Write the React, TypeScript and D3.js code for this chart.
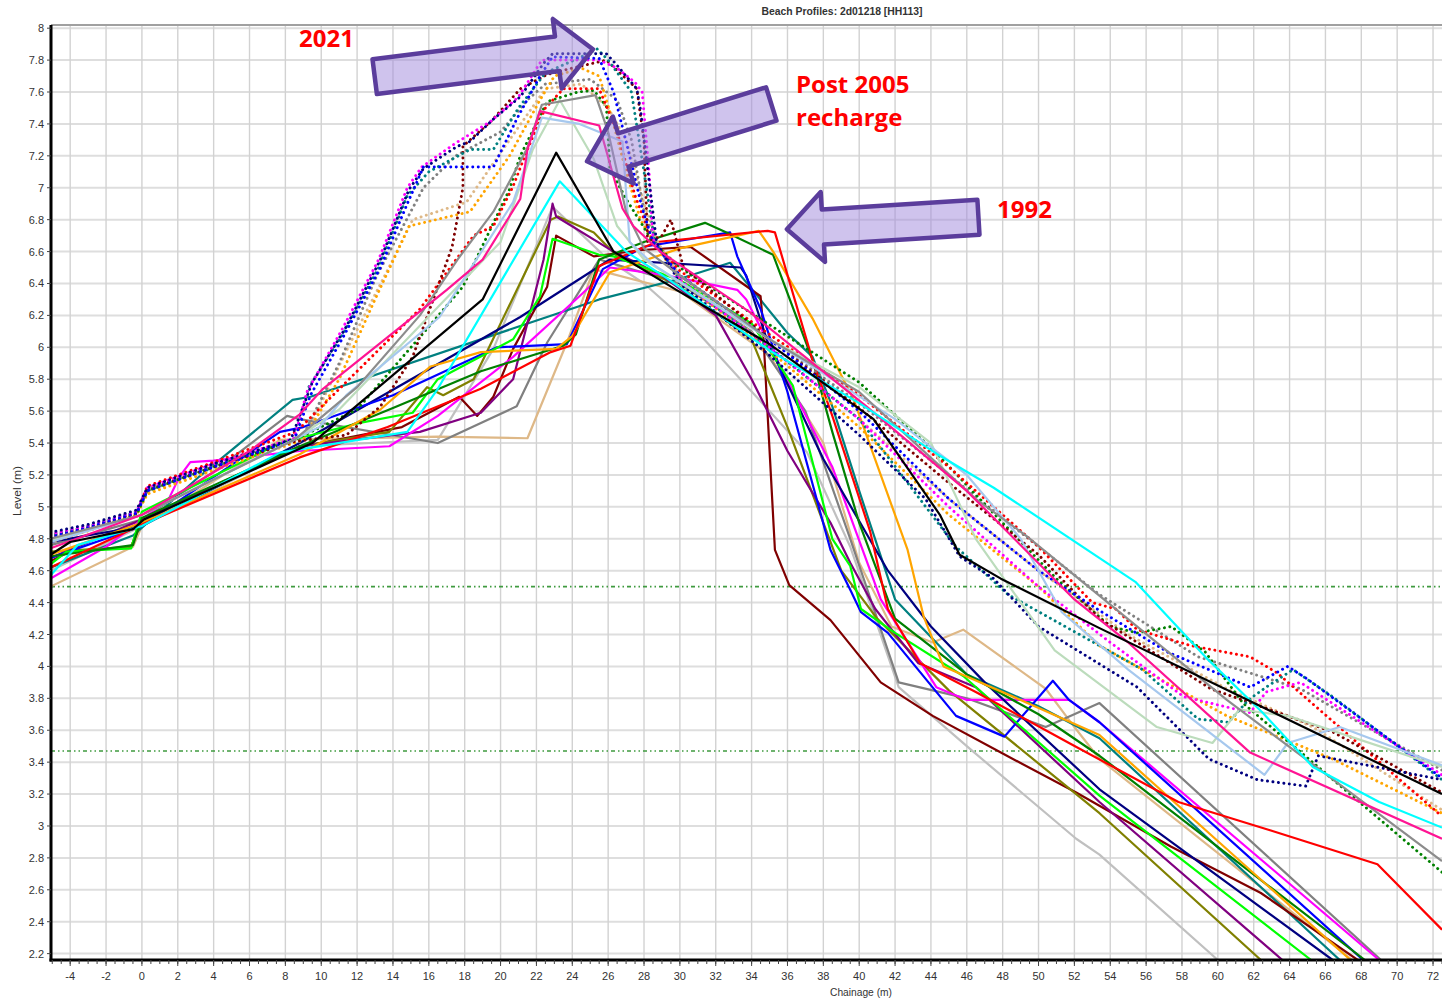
import React from 'react';
import * as d3 from 'd3';

type Pt = [number, number];

// axis ticks
const chainageTicks = d3.range(-4, 73, 2);
const chainageMinor = d3.range(-5, 72.6, 0.5);
const levelTicks = d3.range(0, 30).map(i => +(2.2 + i * 0.2).toFixed(1));
const tideLevels = [4.5, 3.47];

// ---- older surveys (solid lines) : [chainage m, level m] ----
const pRed: Pt[] = [[-5.1,4.62],[0,4.89],[8.8,5.31],[13.7,5.5],[18.9,5.74],[22.8,5.97],[23.9,6.01],[25.5,6.51],[28.7,6.66],[34.9,6.73],[35.3,6.72],[37.4,5.92],[38.5,5.57],[40.6,4.85],[41.6,4.36],[43.4,4.02],[46.5,3.84],[51.7,3.52],[57.8,3.15],[63,2.97],[68.9,2.76],[72.5,2.35]];
const pOrange: Pt[] = [[-5.1,4.7],[0,4.9],[8.8,5.33],[13.3,5.61],[16.1,5.88],[18.9,5.97],[23.1,5.99],[24,6.07],[26.1,6.47],[30,6.62],[34.4,6.73],[35.2,6.6],[37.4,6.18],[39.7,5.67],[42.7,4.73],[43.6,4.31],[44.7,4.0],[49,3.79],[53.4,3.57],[67.4,2.16]];
const pGreen: Pt[] = [[-5.1,4.69],[-0.5,4.76],[0,4.93],[8.8,5.38],[14,5.62],[18.9,5.85],[23.5,6.01],[24.2,6.08],[25.5,6.55],[28,6.66],[31.4,6.78],[32.6,6.72],[35.2,6.58],[37.4,5.92],[38.5,5.47],[40,4.9],[42,4.3],[46,3.95],[50,3.7],[53.4,3.44],[68.2,2.16]];
const pLime: Pt[] = [[-5.1,4.64],[-4.2,4.72],[-0.6,4.74],[0,4.97],[7.7,5.4],[12.3,5.53],[15.1,5.59],[16.5,5.8],[20.7,6.05],[22.2,6.32],[22.9,6.68],[25.5,6.58],[26.3,6.57],[30,6.42],[34,6.15],[36.3,5.76],[38.5,4.8],[39.5,4.63],[40.1,4.36],[42,4.21],[45.8,3.94],[53.4,3.19],[65.2,2.16]];
const pBlue: Pt[] = [[-5.1,4.68],[0,4.88],[7.7,5.47],[9,5.5],[14,5.7],[19.8,6.0],[23.7,6.02],[25.7,6.49],[28,6.63],[32.8,6.72],[33.2,6.57],[34.5,6.24],[36,5.72],[38.4,4.73],[39.5,4.48],[40.1,4.34],[41.6,4.21],[45.4,3.69],[48.1,3.56],[50.8,3.91],[51.7,3.79],[53.4,3.65],[68.1,2.16]];
const pNavy: Pt[] = [[-5.1,4.78],[0,4.88],[8.8,5.4],[21.1,6.19],[26.1,6.55],[33.4,6.5],[33.7,6.45],[34.9,6.03],[38,5.3],[41.6,4.6],[44,4.25],[47,3.9],[53.4,3.23],[66.4,2.16]];
const pMagenta: Pt[] = [[-5.1,4.55],[-2,4.75],[0,4.92],[1.5,5.05],[2.1,5.19],[2.7,5.28],[4,5.29],[8.8,5.35],[13.8,5.38],[16.5,5.57],[20.7,5.94],[24.4,6.32],[26.1,6.5],[29.3,6.45],[33.2,6.36],[33.7,6.3],[35.2,5.97],[38.5,5.25],[41.2,4.42],[44.3,3.87],[46,3.79],[51.7,3.79],[53.4,3.65],[69,2.16]];
const pPurple: Pt[] = [[-5.1,4.68],[0,4.92],[8.8,5.38],[15.5,5.47],[18.9,5.59],[20.7,5.8],[22.4,6.55],[22.9,6.9],[23.1,6.82],[26.3,6.6],[29,6.45],[32,6.2],[34,5.8],[36,5.35],[38.4,4.9],[39.5,4.65],[40.9,4.36],[43.3,4.02],[46.5,3.87],[53.4,3.15],[63.6,2.16]];
const pOlive: Pt[] = [[-5.1,4.72],[-0.6,4.75],[0,4.92],[8.8,5.38],[13.8,5.47],[15.9,5.75],[16.8,5.7],[18.5,5.8],[22.8,6.8],[23.2,6.82],[25.2,6.72],[26.5,6.57],[30,6.38],[34,6.05],[36,5.5],[39,4.6],[41,4.3],[45,3.85],[53.4,3.08],[62.4,2.16]];
const pMaroon: Pt[] = [[-5.1,4.66],[-4,4.72],[-0.6,4.75],[0.05,4.93],[9,5.38],[14.5,5.5],[17.7,5.69],[18.7,5.57],[19.6,5.69],[20.7,5.99],[22.6,6.38],[23.1,6.7],[25.2,6.57],[27.9,6.61],[30.6,6.63],[34.5,6.32],[34.6,6.19],[35.3,4.73],[36.1,4.51],[38.4,4.29],[41.2,3.9],[44.1,3.69],[47.9,3.46],[52.1,3.21],[57.4,2.87],[62.4,2.58],[67.8,2.16]];
const pTeal: Pt[] = [[-5.1,4.62],[-0.5,4.82],[3.2,5.19],[8.4,5.67],[9.4,5.69],[25.5,6.3],[30,6.43],[32.8,6.53],[33.9,6.38],[36,6.09],[37.4,5.94],[38.5,5.63],[40,5.1],[42,4.42],[46,3.95],[50,3.75],[53.4,3.55],[66.8,2.16]];
const pGray: Pt[] = [[-5.1,4.76],[0,4.92],[4,5.22],[8.1,5.57],[8.8,5.55],[16.5,5.4],[20.9,5.63],[22.6,6.03],[25.5,6.55],[30,6.4],[34,6.1],[37,5.6],[39.5,4.8],[42.2,3.9],[46,3.8],[50.4,3.62],[53.4,3.77],[69.1,2.16]];
const pSilver: Pt[] = [[-5.1,4.6],[0,4.88],[8.8,5.38],[16.5,5.42],[19.6,5.99],[22.9,6.88],[26,6.55],[28,6.4],[30.7,6.13],[37.1,5.34],[39.5,4.75],[42.2,3.87],[46,3.5],[52.1,2.92],[53.4,2.82],[60,2.16]];
const pTan: Pt[] = [[-5.1,4.5],[-0.5,4.75],[0,4.88],[7.7,5.42],[16.5,5.44],[21.5,5.43],[23.7,6.03],[25.2,6.49],[30,6.35],[35,5.95],[38,5.4],[40,4.65],[41.8,4.25],[44.1,4.15],[45.8,4.23],[50.4,3.86],[52,3.62],[53.4,3.42],[67.5,2.16]];
// upper group of solid lines
const pPaleGreen: Pt[] = [[-5.1,4.79],[0,4.95],[8.5,5.42],[11,5.61],[20,6.66],[21.8,7.24],[23.3,7.55],[25.2,7.18],[26.5,6.76],[28,6.55],[35,6.05],[40,5.75],[44,5.4],[46.5,4.8],[50.9,4.1],[56.6,3.62],[59.7,3.52],[61.2,3.73],[63.9,3.69],[72.5,3.37]];
const pLightBlue: Pt[] = [[-5.1,4.78],[0,4.95],[9.9,5.5],[11.4,5.7],[16.6,6.19],[20.7,6.91],[22.3,7.44],[24.4,7.4],[26.8,7.29],[27.2,6.66],[28.5,6.52],[35,6.05],[42,5.55],[46,5.2],[49,4.8],[51.3,4.34],[55,3.98],[62.6,3.32],[63.9,3.52],[66.8,3.62],[72.5,3.38]];
const pGray2: Pt[] = [[-5.1,4.8],[0,4.95],[8.5,5.42],[12,5.75],[15.5,6.2],[17.6,6.55],[19.6,6.85],[21.5,7.25],[22.3,7.52],[25.3,7.58],[26,7.35],[27,6.85],[28,6.62],[30,6.45],[35,6.05],[40,5.72],[46.5,5.05],[49.3,4.82],[60.5,3.79],[72.5,2.78]];
const pPink: Pt[] = [[-5.1,4.74],[0,4.95],[6,5.35],[8.8,5.58],[10.1,5.74],[17,6.36],[19,6.55],[21.1,6.93],[21.5,7.24],[22.2,7.48],[25.5,7.39],[26.8,6.87],[27.4,6.76],[28.9,6.6],[33.9,6.22],[40.4,5.63],[46,5.1],[52,4.42],[55,4.15],[61.8,3.46],[72.5,2.92]];
const pCyan: Pt[] = [[-5.1,4.57],[-3.6,4.76],[0,4.88],[7.7,5.34],[14.8,5.47],[16.5,5.74],[23.3,7.04],[27,6.6],[29.3,6.43],[35,5.98],[40,5.65],[44.5,5.32],[47.5,5.12],[55.4,4.53],[59.3,4.06],[62.5,3.71],[65.3,3.37],[69,3.15],[72.5,2.99]];
const pBlack: Pt[] = [[-5.1,4.7],[-4,4.78],[-0.5,4.86],[0.1,4.92],[9.5,5.4],[19,6.3],[23.1,7.22],[26.3,6.6],[29.8,6.36],[35,6.02],[40.8,5.55],[44.5,4.95],[45.6,4.7],[47.9,4.55],[53.4,4.24],[72.5,3.2]];

// ---- post-2005 recharge / 2021 surveys (dotted lines) ----
const dNavy: Pt[] = [[-5.1,4.84],[-3,4.89],[-0.3,4.98],[0.3,5.12],[4,5.27],[8.3,5.42],[9.5,5.78],[11.4,6.13],[13.3,6.55],[14.9,6.99],[15.7,7.12],[16.5,7.18],[17.6,7.26],[18.3,7.29],[19.6,7.43],[21.1,7.57],[22.4,7.78],[22.9,7.84],[25.9,7.84],[26.4,7.78],[27.6,7.62],[27.8,7.49],[28.2,7.12],[28.7,6.66],[30,6.4],[35,5.95],[40,5.45],[43.7,5.05],[45.6,4.69],[47.5,4.55],[50,4.25],[55.5,3.87],[59.5,3.42],[62.2,3.29],[64.9,3.25],[65.6,3.44],[72.5,3.29]];
const dBlue: Pt[] = [[-5.1,4.81],[-3,4.87],[-0.3,4.96],[0.3,5.1],[4,5.25],[8.5,5.42],[9.4,5.7],[11.3,6.08],[13.3,6.5],[14.8,6.9],[15.7,7.13],[19.6,7.13],[20.9,7.43],[22.2,7.7],[22.9,7.82],[25.5,7.81],[26.3,7.6],[27,7.29],[27.9,6.87],[28.5,6.66],[30,6.45],[35,6.05],[40,5.6],[45,5.05],[50,4.6],[53.4,4.35],[57.2,4.09],[61.8,3.87],[63.9,4.0],[65,3.92],[72.5,3.3]];
const dMagenta: Pt[] = [[-5.1,4.83],[-3,4.88],[-0.3,4.97],[0.3,5.12],[4,5.27],[8.5,5.43],[9.2,5.72],[11.2,6.12],[13.2,6.55],[14.8,7.0],[15.6,7.13],[17.5,7.28],[19.5,7.42],[21,7.57],[22.3,7.8],[25.5,7.8],[26.5,7.75],[27.5,7.66],[27.9,7.6],[28.3,7.07],[28.5,6.68],[30,6.42],[35,6.0],[40,5.55],[45,5.0],[50,4.5],[54,4.15],[58.1,3.81],[61.8,3.71],[62.7,3.84],[64.6,3.9],[72.5,3.32]];
const dTeal: Pt[] = [[-5.1,4.82],[-3,4.88],[-0.3,4.97],[0.3,5.11],[4,5.26],[8.5,5.42],[9.3,5.75],[11.3,6.1],[13.2,6.5],[14.8,6.95],[16,7.1],[18.3,7.24],[19.6,7.24],[21,7.5],[22.5,7.72],[24.5,7.82],[25.4,7.87],[26,7.8],[27.3,7.6],[28,7.1],[28.6,6.66],[30,6.42],[35,6.0],[40,5.55],[45.4,4.75],[48.3,4.45],[53.4,4.13],[55.8,3.98],[58.9,3.67],[60.6,3.65],[61.7,3.79],[62.7,3.87],[64.2,3.98],[66.4,3.81],[72.5,3.29]];
const dMaroon: Pt[] = [[-5.1,4.82],[-3,4.87],[-0.3,4.96],[0.3,5.11],[4,5.25],[8.5,5.41],[11.4,5.45],[13.3,5.63],[15.1,5.94],[17.3,6.63],[17.9,7.0],[17.9,7.26],[19.5,7.42],[21.1,7.62],[22.6,7.71],[24,7.75],[25.9,7.8],[27.6,7.62],[28,7.29],[28.2,6.66],[29,6.7],[29.5,6.8],[30.2,6.5],[35,6.05],[40,5.62],[45,5.15],[50,4.7],[53.4,4.3],[59.6,3.86],[66.4,3.59],[72.5,3.21]];
const dGray: Pt[] = [[-5.1,4.83],[-3,4.88],[-0.3,4.97],[0.3,5.1],[4,5.26],[9,5.45],[11,5.9],[13.1,6.45],[15.7,7.0],[17.5,7.2],[20,7.35],[21.5,7.55],[22.5,7.65],[25,7.68],[26.5,7.55],[27.3,7.3],[28,6.85],[28.7,6.65],[30,6.45],[35,6.05],[40,5.65],[45,5.2],[50,4.75],[53.4,4.45],[58.9,4.06],[64.6,3.86],[72.5,3.35]];
const dTan: Pt[] = [[-5.1,4.8],[-3,4.86],[-0.3,4.95],[0.3,5.09],[4,5.24],[9,5.42],[11.5,6.0],[14,6.55],[15.1,6.8],[18.1,6.91],[20.5,7.3],[22.5,7.62],[24.5,7.65],[26,7.5],[27,7.3],[28,6.9],[28.8,6.65],[30,6.45],[35,6.0],[40,5.55],[45,5.05],[50,4.6],[55,4.2],[60.5,3.86],[65.3,3.62],[72.5,3.1]];
const dOrange: Pt[] = [[-5.1,4.78],[-3,4.85],[-0.3,4.95],[0.3,5.08],[4,5.23],[9,5.42],[11,5.8],[13,6.3],[14.9,6.76],[18.3,6.85],[20.5,7.2],[22.2,7.55],[23,7.7],[24.5,7.75],[25.5,7.7],[26.3,7.4],[27,7.1],[27.8,6.8],[28.6,6.65],[30,6.42],[35,5.98],[40,5.5],[45,4.95],[50,4.5],[53.4,4.13],[60.5,3.69],[66.4,3.42],[72.5,3.08]];
const dRed: Pt[] = [[-5.1,4.81],[-3,4.87],[-0.3,4.96],[0.3,5.13],[4,5.28],[8.6,5.47],[12,5.85],[15.5,6.24],[18.5,6.7],[19.6,6.76],[20.7,7.01],[21.5,7.24],[22.5,7.5],[23.5,7.62],[25.5,7.62],[26.5,7.35],[27.5,6.95],[28.5,6.66],[30,6.48],[35,6.08],[40,5.7],[45,5.25],[50,4.75],[53,4.4],[54.3,4.36],[55.5,4.23],[58.5,4.13],[61.8,4.06],[63.3,3.96],[72.5,3.06]];
const dGreen: Pt[] = [[-5.1,4.8],[-3,4.86],[-0.3,4.95],[0.3,5.1],[4,5.25],[8.5,5.42],[12,5.61],[15.7,6.09],[17.9,6.38],[20.5,6.99],[21.1,7.2],[22.6,7.54],[24.3,7.6],[25.2,7.61],[25.9,7.51],[26.1,7.12],[27,6.93],[28.5,6.66],[30,6.5],[33.9,6.22],[40,5.78],[44.1,5.36],[48,4.9],[51,4.55],[54,4.25],[55.5,4.21],[57.4,4.25],[59.3,4.09],[61.4,3.77],[72.5,2.71]];

const lowerSolid = [
  { c: '#c0c0c0', d: pSilver }, { c: '#deb887', d: pTan }, { c: '#808080', d: pGray },
  { c: '#008080', d: pTeal }, { c: '#800000', d: pMaroon }, { c: '#808000', d: pOlive },
  { c: '#800080', d: pPurple }, { c: '#ff00ff', d: pMagenta }, { c: '#000080', d: pNavy },
  { c: '#0000ff', d: pBlue }, { c: '#00ff00', d: pLime }, { c: '#008000', d: pGreen },
  { c: '#ffa500', d: pOrange }, { c: '#ff0000', d: pRed },
];
const upperSolid = [
  { c: '#bcdcbc', d: pPaleGreen }, { c: '#a6c8ee', d: pLightBlue }, { c: '#8c8c8c', d: pGray2 },
  { c: '#ff1493', d: pPink }, { c: '#00ffff', d: pCyan }, { c: '#000000', d: pBlack },
];
const dotted = [
  { c: '#deb887', d: dTan }, { c: '#808080', d: dGray }, { c: '#ffa500', d: dOrange },
  { c: '#008000', d: dGreen }, { c: '#ff0000', d: dRed }, { c: '#800000', d: dMaroon },
  { c: '#008080', d: dTeal }, { c: '#ff00ff', d: dMagenta }, { c: '#0000ff', d: dBlue },
  { c: '#000080', d: dNavy },
];

// callout arrows, tip and tail in chart units
const callouts: { tip: Pt; tail: Pt; head: number }[] = [
  { tip: [25.15, 7.868], tail: [12.98, 7.696], head: 36 },
  { tip: [24.82, 7.166], tail: [35.1, 7.525], head: 38 },
  { tip: [35.97, 6.74], tail: [46.65, 6.815], head: 36 },
];

function arrowPoints(t: Pt, e: Pt, headLen: number, headHalf = 35, shaftHalf = 17.5) {
  const dx = e[0] - t[0], dy = e[1] - t[1];
  const L = Math.hypot(dx, dy);
  const ux = dx / L, uy = dy / L, nx = -uy, ny = ux;
  const bx = t[0] + ux * headLen, by = t[1] + uy * headLen;
  return [
    [t[0], t[1]],
    [bx + nx * headHalf, by + ny * headHalf],
    [bx + nx * shaftHalf, by + ny * shaftHalf],
    [e[0] + nx * shaftHalf, e[1] + ny * shaftHalf],
    [e[0] - nx * shaftHalf, e[1] - ny * shaftHalf],
    [bx - nx * shaftHalf, by - ny * shaftHalf],
    [bx - nx * headHalf, by - ny * headHalf],
  ].map(p => p.map(v => v.toFixed(1)).join(',')).join(' ');
}

export default function App() {
  const W = 1442, H = 1000;
  const left = 51, right = 1442, top = 25, bottom = 960;
  const x = d3.scaleLinear().domain([-5.07, 72.5]).range([left, right]);
  const y = d3.scaleLinear().domain([2.16, 8.02]).range([bottom, top]);
  const line = d3.line<Pt>().x(d => x(d[0])).y(d => y(d[1]));
  const font = "'Liberation Sans', Arial, sans-serif";

  return (
    <div style={{ position: 'fixed', left: 0, top: 0 }}>
      <svg width={W} height={H} style={{ display: 'block', background: '#fff' }} fontFamily={font}>
        <defs>
          <clipPath id="plotArea">
            <rect x={left} y={top} width={right - left} height={bottom - top} />
          </clipPath>
        </defs>

        {/* grid */}
        <g>
          {levelTicks.map(v => (
            <line key={'h' + v} x1={left} x2={right} y1={y(v)} y2={y(v)} stroke="#dedede" strokeWidth={2} />
          ))}
          {chainageTicks.map(v => (
            <line key={'v' + v} x1={x(v)} x2={x(v)} y1={top} y2={bottom} stroke="#d2d2d2" strokeWidth={1.4} />
          ))}
        </g>

        {/* tide levels */}
        {tideLevels.map(v => (
          <line key={'t' + v} x1={left} x2={right} y1={y(v)} y2={y(v)} stroke="#3f9a3f" strokeWidth={1.6}
            strokeDasharray="4,3,1.5,3,1.5,3" />
        ))}

        <g clipPath="url(#plotArea)" fill="none" strokeLinejoin="round">
          {lowerSolid.map((s, i) => (
            <path key={'l' + i} d={line(s.d) || ''} stroke={s.c} strokeWidth={2.2} />
          ))}
          {dotted.map((s, i) => (
            <path key={'d' + i} d={line(s.d) || ''} stroke={s.c} strokeWidth={2.9}
              strokeDasharray="0.1 5.4" strokeLinecap="round" />
          ))}
          {upperSolid.map((s, i) => (
            <path key={'u' + i} d={line(s.d) || ''} stroke={s.c} strokeWidth={2.2} />
          ))}
        </g>

        {/* frame and axes */}
        <line x1={left} x2={right} y1={top} y2={top} stroke="#a0a0a0" strokeWidth={2} />
        <line x1={left} x2={left} y1={top} y2={bottom + 1.5} stroke="#000" strokeWidth={3} />
        <line x1={left - 1.5} x2={right} y1={bottom} y2={bottom} stroke="#000" strokeWidth={3} />

        {chainageMinor.map(v => (
          <line key={'m' + v} x1={x(v)} x2={x(v)} y1={bottom} y2={bottom + 4} stroke="#444" strokeWidth={1} />
        ))}
        {chainageTicks.map(v => (
          <g key={'xt' + v}>
            <line x1={x(v)} x2={x(v)} y1={bottom} y2={bottom + 6} stroke="#444" strokeWidth={1} />
            <text x={x(v)} y={980} textAnchor="middle" fontSize={11} fill="#333">{v}</text>
          </g>
        ))}
        {levelTicks.map(v => (
          <g key={'yt' + v}>
            <line x1={left - 4} x2={left} y1={y(v)} y2={y(v)} stroke="#444" strokeWidth={1} />
            <text x={44} y={y(v) + 4} textAnchor="end" fontSize={11} fill="#333">{String(v)}</text>
          </g>
        ))}

        <text x={842} y={15} textAnchor="middle" fontSize={10.5} fontWeight="bold" fill="#333"
          textLength={161} lengthAdjust="spacingAndGlyphs">Beach Profiles: 2d01218 [HH113]</text>
        <text x={861} y={996} textAnchor="middle" fontSize={10.5} fill="#333"
          textLength={62} lengthAdjust="spacingAndGlyphs">Chainage (m)</text>
        <text transform="translate(21,491) rotate(-90)" textAnchor="middle" fontSize={10.5} fill="#333"
          textLength={50} lengthAdjust="spacingAndGlyphs">Level (m)</text>

        {/* callouts */}
        {callouts.map((a, i) => (
          <polygon key={'a' + i}
            points={arrowPoints([x(a.tip[0]), y(a.tip[1])], [x(a.tail[0]), y(a.tail[1])], a.head)}
            fill="rgba(160,135,220,0.5)" stroke="#5b3d9c" strokeWidth={4.5} strokeLinejoin="round" />
        ))}
        <g fontFamily="'Open Sans', 'Liberation Sans', sans-serif" fontWeight="bold" fontSize={24} fill="#ff0000">
          <text x={299} y={47}>2021</text>
          <text x={796} y={93}>Post 2005</text>
          <text x={796} y={126}>recharge</text>
          <text x={997} y={218}>1992</text>
        </g>
      </svg>
    </div>
  );
}
